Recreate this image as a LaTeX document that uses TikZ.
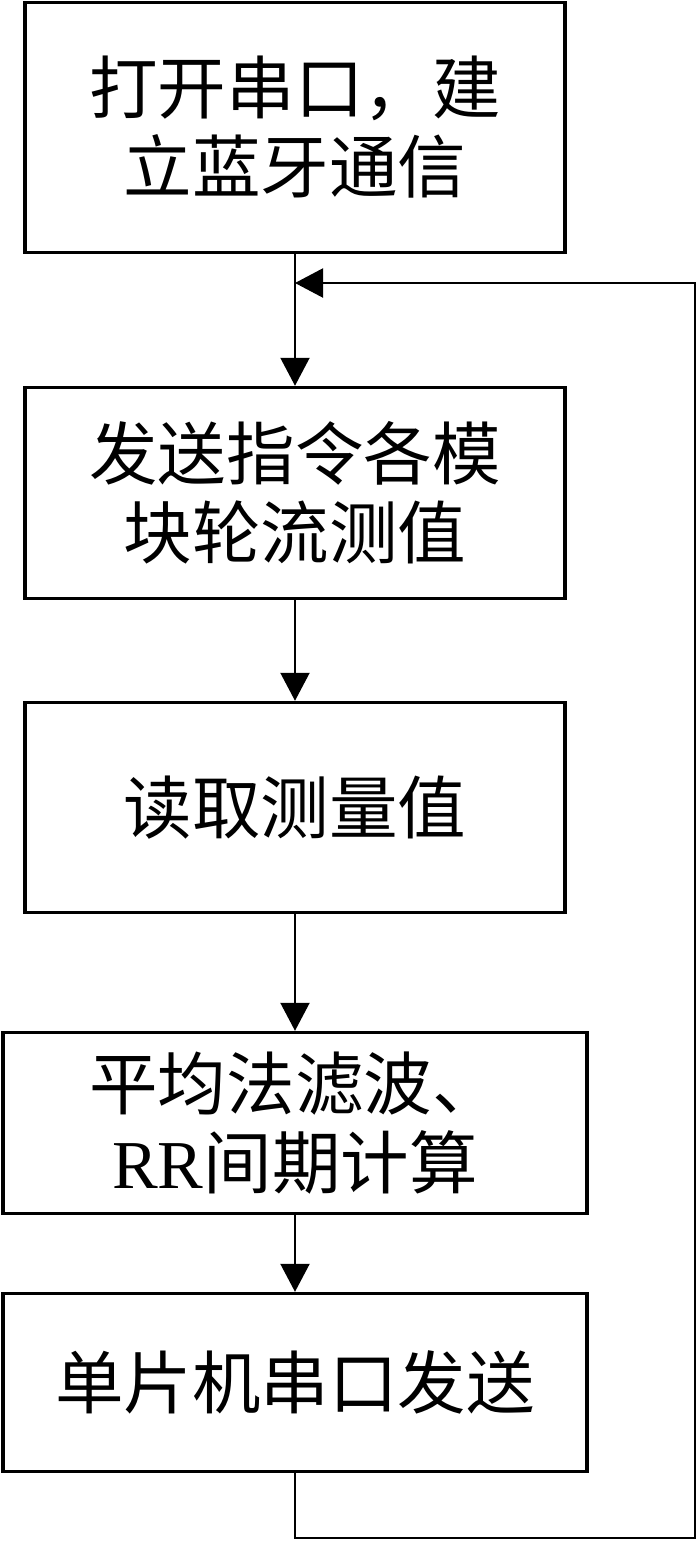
\documentclass[tikz,border=0pt]{standalone}
\usepackage{fontspec}
\setmainfont{Liberation Serif}
\newfontfamily\cjk{Noto Sans CJK SC}
\usetikzlibrary{positioning,arrows.meta}

\begin{document}
\begin{tikzpicture}[
% node style
rect/.style={rectangle, draw=black, line width=2pt, minimum width=10.8cm, align=center,
  font=\cjk\fontsize{39}{45}\selectfont},
wide/.style={rect, minimum width=11.68cm},
arr/.style={-{Triangle[length=0.56cm,width=0.58cm]}, line width=1.2pt}
]
\useasboundingbox (0,0) rectangle (14,-30.88);

% nodes
\node[rect, minimum height=5.0cm] (open_bt) at (5.9,-2.55) {打开串口，建\\立蓝牙通信};
\node[rect, minimum height=4.22cm] (send_cmd) [below=2.63cm of open_bt] {发送指令各模\\块轮流测值};
\node[rect, minimum height=4.2cm] (read_val) [below=2.01cm of send_cmd] {读取测量值};
\node[wide, minimum height=3.62cm] (filter_rr) [below=2.33cm of read_val] {平均法滤波、\\{\rmfamily RR}间期计算};
\node[wide, minimum height=3.56cm] (mcu_send) [below=1.53cm of filter_rr] {单片机串口发送};

% loop corners
\coordinate (merge) at (5.9,-5.66);
\coordinate (loop_tr) at (13.9,-5.66);
\coordinate (loop_br) at (13.9,-30.76);

% draw lines between nodes
\draw[arr] (open_bt.south) -- (send_cmd.north);
\draw[arr] (send_cmd.south) -- (read_val.north);
\draw[arr] (read_val.south) -- (filter_rr.north);
\draw[arr] (filter_rr.south) -- (mcu_send.north);
\draw[arr] (mcu_send.south) -- (mcu_send.south |- loop_br) -- (loop_br) -- (loop_tr) -- (merge);

\end{tikzpicture}
\end{document}
